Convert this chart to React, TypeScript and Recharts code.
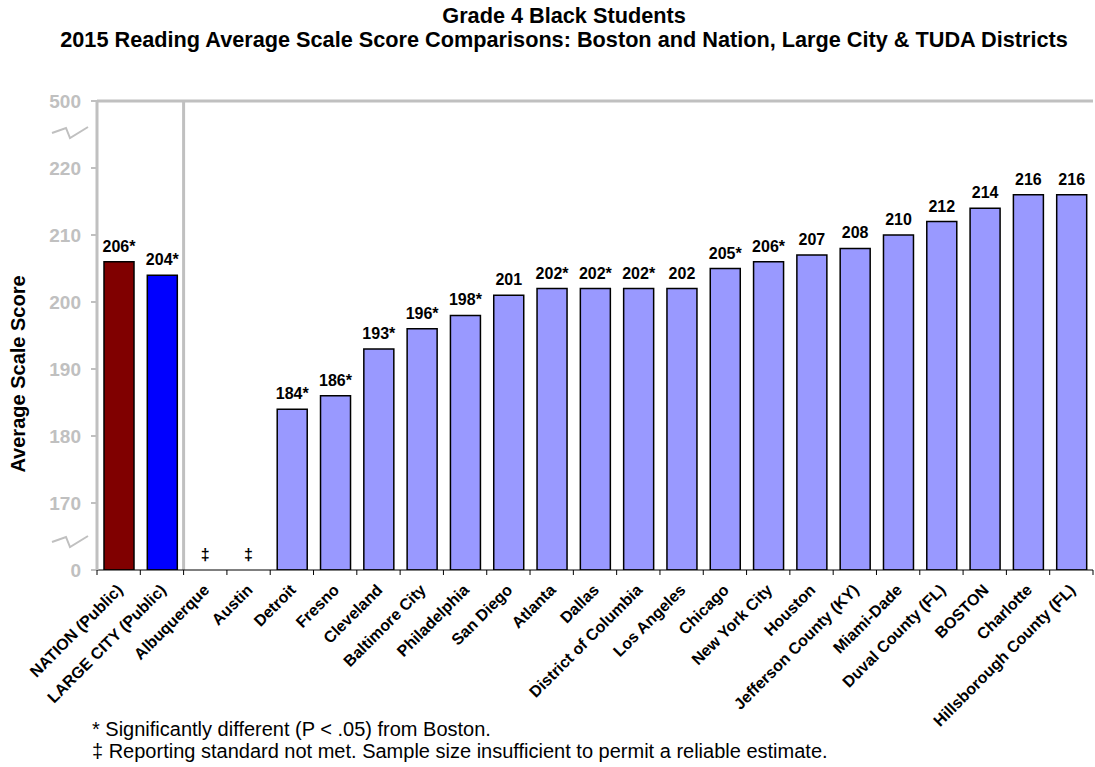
import React from 'react';
import { BarChart, Bar, XAxis, YAxis, Cell, LabelList, ReferenceLine } from 'recharts';

const districts = [
  'NATION (Public)',
  'LARGE CITY (Public)',
  'Albuquerque',
  'Austin',
  'Detroit',
  'Fresno',
  'Cleveland',
  'Baltimore City',
  'Philadelphia',
  'San Diego',
  'Atlanta',
  'Dallas',
  'District of Columbia',
  'Los Angeles',
  'Chicago',
  'New York City',
  'Houston',
  'Jefferson County (KY)',
  'Miami-Dade',
  'Duval County (FL)',
  'BOSTON',
  'Charlotte',
  'Hillsborough County (FL)',
];

// null = reporting standard not met
const scores: (number | null)[] = [
  206, 204, null, null, 184, 186, 193, 196, 198, 201, 202, 202, 202, 202, 205, 206, 207, 208, 210, 212, 214, 216, 216,
];

// * significantly different from Boston
const significant = [
  true, true, false, false, true, true, true, true, true, false, true, true, true, false, true, true,
  false, false, false, false, false, false, false,
];

// broken axis: the bottom tick stands for 0 and the top one for 500
const yTicks = [160, 170, 180, 190, 200, 210, 220, 230];
const yTickLabels = ['0', '170', '180', '190', '200', '210', '220', '500'];

const data = districts.map((name, i) => ({
  name,
  score: scores[i],
  label: scores[i] == null ? '' : `${scores[i]}${significant[i] ? '*' : ''}`,
}));

const FONT = '"Liberation Sans", Arial, Helvetica, sans-serif';
const GRAY = '#c0c0c0';

const barColor = (name: string) =>
  name === 'NATION (Public)' ? '#800000' : name === 'LARGE CITY (Public)' ? '#0000ff' : '#9999ff';

const XTick = ({ x, y, payload, index }: any) => {
  const half = payload.offset || 996 / districts.length / 2;
  const lx = x + 5;
  const ly = y + 16;
  return (
    <g>
      <line x1={x + half} y1={y - 5} x2={x + half} y2={y} stroke="#000" />
      {index === 0 && <line x1={x - half} y1={y - 5} x2={x - half} y2={y} stroke="#000" />}
      {scores[index] == null && (
        <text x={x} y={y - 15} textAnchor="middle" fontSize={16} fontWeight="bold" fill="#000">
          ‡
        </text>
      )}
      <text
        x={lx}
        y={ly}
        transform={`rotate(-45, ${lx}, ${ly})`}
        textAnchor="end"
        fontSize={16}
        fontWeight="bold"
        fill="#000"
      >
        {payload.value}
      </text>
    </g>
  );
};

const Squiggle = ({ y }: { y: number }) => (
  <polyline
    points={`52,${y + 5} 66,${y} 70,${y + 10} 88,${y - 1}`}
    fill="none"
    stroke={GRAY}
    strokeWidth={2}
  />
);

export default function App() {
  return (
    <div style={{ position: 'fixed', left: 0, top: 0, width: 1095, height: 767, background: '#fff', fontFamily: FONT }}>
      <BarChart width={1095} height={767} data={data} margin={{ top: 101, right: 2, left: 37, bottom: 47 }}>
        <XAxis
          dataKey="name"
          interval={0}
          height={150}
          tick={<XTick />}
          tickLine={false}
          tickSize={5}
          tickMargin={0}
          axisLine={{ stroke: '#000', strokeWidth: 1 }}
        />
        <YAxis
          domain={[160, 230]}
          ticks={yTicks}
          interval={0}
          allowDataOverflow
          width={60}
          tickFormatter={(v: number) => yTickLabels[yTicks.indexOf(v)]}
          tick={{ fill: GRAY, fontSize: 19, fontWeight: 'bold' }}
          axisLine={{ stroke: GRAY, strokeWidth: 3 }}
          tickLine={{ stroke: GRAY, strokeWidth: 2 }}
          tickSize={6}
          tickMargin={10}
        />
        <YAxis
          yAxisId="frame"
          orientation="right"
          domain={[160, 230]}
          width={0}
          tick={false}
          tickLine={false}
          axisLine={{ stroke: GRAY, strokeWidth: 3 }}
        />
        <ReferenceLine y={230} stroke={GRAY} strokeWidth={3} />
        <ReferenceLine x="LARGE CITY (Public)" position="end" stroke={GRAY} strokeWidth={3} />
        <Bar dataKey="score" barSize={30} stroke="#000" strokeWidth={1.5} isAnimationActive={false}>
          {data.map((d) => (
            <Cell key={d.name} fill={barColor(d.name)} />
          ))}
          <LabelList dataKey="label" position="top" offset={10} fill="#000" fontSize={16} fontWeight="bold" />
        </Bar>
      </BarChart>

      <svg
        width={1095}
        height={767}
        style={{ position: 'absolute', left: 0, top: 0, pointerEvents: 'none' }}
        fontFamily={FONT}
      >
        <text x={564} y={23} textAnchor="middle" fontSize={21.7} fontWeight="bold" fill="#000">
          Grade 4 Black Students
        </text>
        <text x={564} y={47} textAnchor="middle" fontSize={21.7} fontWeight="bold" fill="#000">
          2015 Reading Average Scale Score Comparisons: Boston and Nation, Large City &amp; TUDA Districts
        </text>
        <text
          x={25}
          y={374}
          transform="rotate(-90, 25, 374)"
          textAnchor="middle"
          fontSize={20}
          fontWeight="bold"
          fill="#000"
        >
          Average Scale Score
        </text>
        <Squiggle y={128} />
        <Squiggle y={537} />
        <text x={92} y={736} fontSize={20} fill="#000">
          * Significantly different (P &lt; .05) from Boston.
        </text>
        <text x={92} y={758} fontSize={20} fill="#000">
          ‡ Reporting standard not met. Sample size insufficient to permit a reliable estimate.
        </text>
      </svg>
    </div>
  );
}
